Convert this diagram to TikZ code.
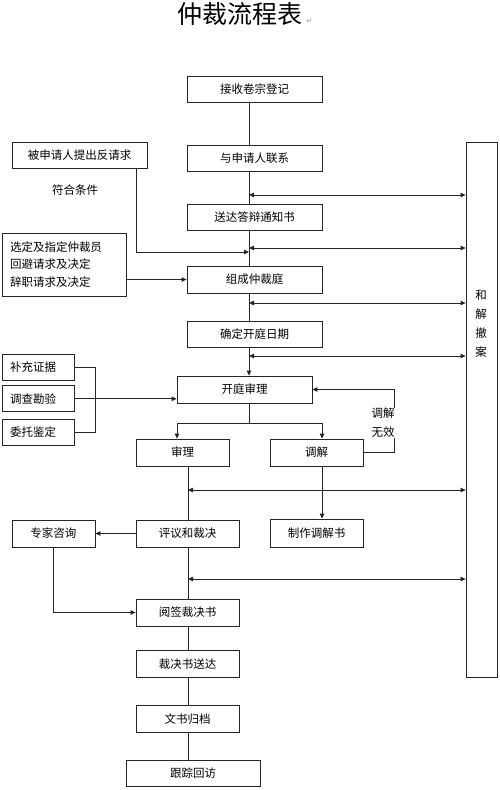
\documentclass[tikz,border=0pt]{standalone}
\usepackage{fontspec}
\setmainfont{Noto Sans CJK SC}
\newfontfamily\markfont{DejaVu Sans}
\usetikzlibrary{arrows.meta}
\usetikzlibrary{positioning}
\tikzset{
    box/.style={draw=black!85, line width=0.8pt, inner sep=0pt, minimum height=26pt, font=\fontsize{11.5}{14}\selectfont},
    wide/.style={minimum width=135pt},
    mid/.style={minimum width=103pt},
    narrow/.style={minimum width=93pt},
    evid/.style={text width=56pt, inner xsep=8pt, align=left},
    plain/.style={font=\fontsize{11.5}{19}\selectfont, inner sep=0.5pt},
}

\begin{document}
\begin{tikzpicture}[x=1pt, y=-1pt, >={Triangle[length=5pt,width=4.5pt]}, line width=0.8pt, draw=black!85]

            \useasboundingbox (0,0) rectangle (500,790);

            % Title
            \node[font=\fontsize{25}{28}\selectfont] (title) at (240,14) {仲裁流程表};
            \node[anchor=base west, inner sep=0pt, text=black!45, font=\markfont\fontsize{7}{8}\selectfont] (mark) at (title.base east) {↵};

            % Main column
            \node[box, wide] (jieshou) at (254.5,89.5) {接收卷宗登记};
            \node[box, wide] (lianxi) at (254.5,158) {与申请人联系};
            \node[box, wide] (songda) at (254.5,217) {送达答辩通知书};
            \node[box, wide, minimum height=27pt] (zucheng) at (254.5,279.5) {组成仲裁庭};
            \node[box, wide] (queding) at (254.5,334) {确定开庭日期};
            \node[box, wide, minimum height=27pt] (kaiting) at (244.5,389.5) {开庭审理};

            % Two branches
            \node[box, narrow, minimum height=27pt] (shenli) at (182.5,452.5) {审理};
            \node[box, narrow, minimum height=27pt] (tiaojie) at (316.5,452.5) {调解};
            \node[box, mid, minimum height=27pt] (pingyi) at (187.5,533.5) {评议和裁决};
            \node[box, narrow, minimum height=28pt] (zhizuo) at (316.5,533) {制作调解书};
            \node[box, minimum width=83pt, minimum height=27pt] (zhuanjia) at (53.5,533.5) {专家咨询};

            % Closing steps
            \node[box, mid, minimum height=27pt] (yueqian) at (187.5,612.5) {阅签裁决书};
            \node[box, mid, minimum height=27pt, below=24pt of yueqian] (caijue) {裁决书送达};
            \node[box, mid, minimum height=27pt, below=27pt of caijue] (wenshu) {文书归档};
            \node[box, minimum width=134pt, below=27pt of wenshu, xshift=5.5pt] (genzong) {跟踪回访};

            % Side inputs
            \node[box, wide] (fanqing) at (79.5,155) {被申请人提出反请求};
            \node[plain] (fuhe) at (75,190) {符合条件};
            \node[box, align=left, text width=108pt, inner xsep=8pt, minimum height=63pt, font=\fontsize{11.5}{17.5}\selectfont] (xuanding) at (64,264.5) {选定及指定仲裁员\\回避请求及决定\\辞职请求及决定};
            \node[box, evid] (buchong) at (38,367) {补充证据};
            \node[box, evid, below=5pt of buchong] (diaocha) {调查勘验};
            \node[box, evid, below=7pt of diaocha] (weituo) {委托鉴定};

            % Settlement box
            \node[box, minimum width=31pt, minimum height=535pt] (hejie) at (481.5,409.5) {};
            \node[plain, align=center] (hejietxt) at (481,324) {和\\解\\撤\\案};

            % Guide coordinates
            \coordinate (spine) at (249,0);
            \coordinate (midline) at (188,0);
            \coordinate (fork) at (249,423);
            \coordinate (loopx) at (394,0);
            \coordinate (brace) at (95,0);

            % Main column lines
            \draw (jieshou.south -| spine) -- (lianxi.north -| spine);
            \draw (lianxi.south -| spine) -- (songda.north -| spine);
            \draw (songda.south -| spine) -- (zucheng.north -| spine);
            \draw (zucheng.south -| spine) -- (queding.north -| spine);
            \draw[->] (queding.south -| spine) -- (kaiting.north -| spine);

            % Links to settlement
            \draw[<->] (spine |- 0,195) -- (hejie.west |- 0,195);
            \draw[<->] (spine |- 0,248) -- (hejie.west |- 0,248);
            \draw[<->] (spine |- 0,303) -- (hejie.west |- 0,303);
            \draw[<->] (spine |- 0,356) -- (hejie.west |- 0,356);
            \draw[<->] (midline |- 0,490) -- (hejie.west |- 0,490);
            \draw[<->] (midline |- 0,579) -- (hejie.west |- 0,579);

            % Side inputs
            \draw[->] ([xshift=56.5pt]fanqing.south) |- (spine |- 0,252);
            \draw[->] (xuanding.east |- zucheng.west) -- (zucheng.west);
            \draw (buchong.east) -- (buchong.east -| brace) -- (weituo.east -| brace) -- (weituo.east);
            \draw[->] (diaocha.east) -- (diaocha.east -| kaiting.west);

            % Hearing splits
            \draw (kaiting.south -| spine) -- (fork);
            \draw[->] (fork) -| ([xshift=-5.5pt]shenli.north);
            \draw[->] (fork) -| ([xshift=5.5pt]tiaojie.north);

            % Mediation failed
            \draw[->] (tiaojie.east) -- (tiaojie.east -| loopx) -- (kaiting.east -| loopx) -- (kaiting.east);
            \node[plain, fill=white, align=left, anchor=east] (wuxiao) at (395.5,423) {调解\\无效};

            % Award path
            \draw (shenli.south -| midline) -- (pingyi.north -| midline);
            \draw[->] ([xshift=5.5pt]tiaojie.south) -- ([xshift=5.5pt]zhizuo.north);
            \draw[->] (pingyi.west) -- (zhuanjia.east);
            \draw[->] (zhuanjia.south) |- (yueqian.west);
            \draw (pingyi.south -| midline) -- (yueqian.north -| midline);
            \draw (yueqian.south -| midline) -- (caijue.north -| midline);
            \draw (caijue.south -| midline) -- (wenshu.north -| midline);
            \draw (wenshu.south -| midline) -- (genzong.north -| midline);

        \end{tikzpicture}
\end{document}
